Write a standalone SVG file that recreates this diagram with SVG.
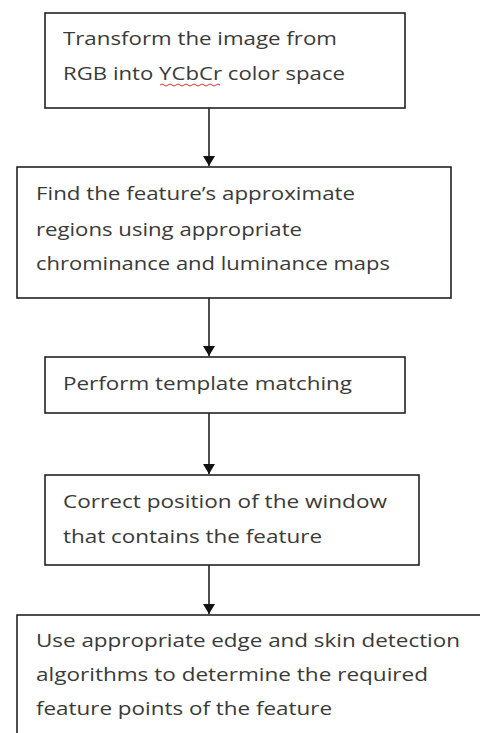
<svg xmlns="http://www.w3.org/2000/svg" width="480" height="733" viewBox="0 0 480 733">
<style>
.box{fill:#fff;stroke:#222;stroke-width:1.6}
.t{font-family:"Open Sans","Liberation Sans",sans-serif;font-size:18px;fill:#3a3a3a}
.c{stroke:#111;stroke-width:1.5;fill:none}
</style>
<defs>
<marker id="ah" viewBox="0 0 10 12" refX="10" refY="6" markerWidth="10" markerHeight="12" markerUnits="userSpaceOnUse" orient="auto">
<path d="M0,0 L10,6 L0,12 z" fill="#111"/>
</marker>
</defs>
<rect width="480" height="733" fill="#fff"/>
<g id="connectors">
<line class="c" x1="209" y1="108" x2="209" y2="166" marker-end="url(#ah)"/>
<line class="c" x1="209" y1="298" x2="209" y2="356" marker-end="url(#ah)"/>
<line class="c" x1="209" y1="413" x2="209" y2="474" marker-end="url(#ah)"/>
<line class="c" x1="209" y1="565" x2="209" y2="614" marker-end="url(#ah)"/>
</g>
<g id="n1">
<rect class="box" x="45" y="13" width="360" height="95"/>
<text class="t" x="63" y="45" textLength="274" lengthAdjust="spacingAndGlyphs">Transform the image from</text>
<text class="t" x="63" y="80" textLength="282" lengthAdjust="spacingAndGlyphs">RGB into YCbCr color space</text>
<path d="M160,85 q2,-2 4,0 t4,0 t4,0 t4,0 t4,0 t4,0 t4,0 t4,0 t4,0 t4,0 t4,0 t4,0 t4,0 t4,0 t4,0" fill="none" stroke="#d33" stroke-width="1"/>
</g>
<g id="n2">
<rect class="box" x="17" y="167" width="434" height="131"/>
<text class="t" x="36" y="200" textLength="319" lengthAdjust="spacingAndGlyphs">Find the feature’s approximate</text>
<text class="t" x="36" y="236" textLength="266" lengthAdjust="spacingAndGlyphs">regions using appropriate</text>
<text class="t" x="36" y="270" textLength="354" lengthAdjust="spacingAndGlyphs">chrominance and luminance maps</text>
</g>
<g id="n3">
<rect class="box" x="45" y="357" width="360" height="56"/>
<text class="t" x="63" y="390" textLength="289" lengthAdjust="spacingAndGlyphs">Perform template matching</text>
</g>
<g id="n4">
<rect class="box" x="45" y="475" width="374" height="90"/>
<text class="t" x="63" y="508" textLength="324" lengthAdjust="spacingAndGlyphs">Correct position of the window</text>
<text class="t" x="63" y="543" textLength="259" lengthAdjust="spacingAndGlyphs">that contains the feature</text>
</g>
<g id="n5">
<rect class="box" x="17" y="615" width="480" height="140"/>
<text class="t" x="36" y="647" textLength="424" lengthAdjust="spacingAndGlyphs">Use appropriate edge and skin detection</text>
<text class="t" x="36" y="681" textLength="392" lengthAdjust="spacingAndGlyphs">algorithms to determine the required</text>
<text class="t" x="36" y="715" textLength="296" lengthAdjust="spacingAndGlyphs">feature points of the feature</text>
</g>
</svg>
